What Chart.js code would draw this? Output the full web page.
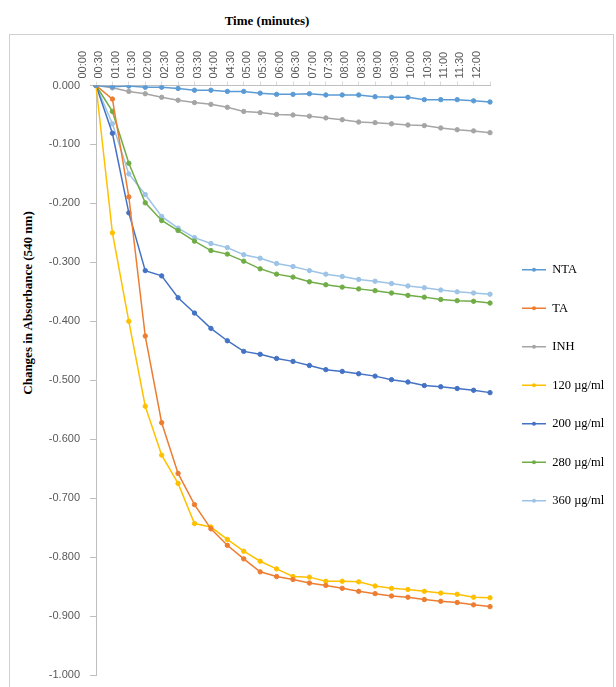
<!doctype html>
<html>

<head>
  <title>Absorbance change chart</title>
  <script src="https://cdn.jsdelivr.net/npm/chart.js@4.4.1/dist/chart.umd.min.js"></script>
  <style>
    html, body {
      margin: 0;
      padding: 0;
      background: #fff;
      overflow: hidden;
    }
    .frame {
      position: absolute;
      left: 9px;
      top: 34px;
      width: 603px;
      height: 700px;
      border: 1px solid #d0d0d0;
    }
    .title {
      position: absolute;
      font-family: "Liberation Serif", serif;
      font-weight: bold;
      font-size: 13px;
      color: #000;
      white-space: nowrap;
    }
    #xTitle {
      left: 267px;
      top: 21px;
      transform: translate(-50%, -50%);
    }
    #yTitle {
      left: 28px;
      top: 303px;
      transform: translate(-50%, -50%) rotate(-90deg);
    }
    canvas {
      position: absolute;
      left: 0;
      top: 0;
    }
  </style>
</head>

<body>
  <div class="frame"></div>
  <div class="title" id="xTitle">Time (minutes)</div>
  <div class="title" id="yTitle">Changes in Absorbance (540 nm)</div>
  <canvas id="myChart" width="616" height="687"></canvas>

  <script>
    var times = ['00:00', '00:30', '01:00', '01:30', '02:00', '02:30', '03:00', '03:30', '04:00',
      '04:30', '05:00', '05:30', '06:00', '06:30', '07:00', '07:30', '08:00', '08:30', '09:00',
      '09:30', '10:00', '10:30', '11:00', '11:30', '12:00'];

    var nta = [0, -0.002, -0.001, -0.003, -0.003, -0.005, -0.008, -0.008, -0.010, -0.010, -0.013,
      -0.015, -0.015, -0.014, -0.016, -0.016, -0.016, -0.019, -0.020, -0.020, -0.024, -0.024,
      -0.024, -0.026, -0.028];
    var ta = [0, -0.023, -0.189, -0.425, -0.572, -0.658, -0.711, -0.752, -0.780, -0.803, -0.825,
      -0.833, -0.838, -0.844, -0.848, -0.853, -0.858, -0.862, -0.866, -0.868, -0.872, -0.875,
      -0.877, -0.881, -0.884];
    var inh = [0, -0.004, -0.010, -0.014, -0.020, -0.025, -0.029, -0.032, -0.037, -0.044, -0.046,
      -0.049, -0.050, -0.052, -0.055, -0.058, -0.062, -0.063, -0.065, -0.067, -0.068, -0.072,
      -0.075, -0.077, -0.080];
    var dose120 = [0, -0.250, -0.400, -0.544, -0.627, -0.675, -0.743, -0.749, -0.770, -0.790, -0.807,
      -0.820, -0.833, -0.834, -0.841, -0.841, -0.842, -0.849, -0.853, -0.855, -0.858, -0.861,
      -0.863, -0.868, -0.869];
    var dose200 = [0, -0.081, -0.216, -0.314, -0.323, -0.360, -0.386, -0.412, -0.433, -0.451, -0.456,
      -0.463, -0.468, -0.475, -0.482, -0.485, -0.489, -0.493, -0.499, -0.503, -0.509, -0.511,
      -0.514, -0.517, -0.521];
    var dose280 = [0, -0.044, -0.132, -0.199, -0.229, -0.246, -0.264, -0.280, -0.286, -0.298, -0.311,
      -0.320, -0.325, -0.333, -0.338, -0.342, -0.345, -0.348, -0.352, -0.356, -0.359, -0.363,
      -0.365, -0.366, -0.369];
    var dose360 = [0, -0.065, -0.150, -0.185, -0.222, -0.242, -0.258, -0.268, -0.275, -0.287, -0.293,
      -0.302, -0.307, -0.314, -0.320, -0.324, -0.329, -0.332, -0.336, -0.340, -0.343, -0.347,
      -0.350, -0.352, -0.354];

    var seriesNames = ['NTA', 'TA', 'INH', '120 \u00b5g/ml', '200 \u00b5g/ml', '280 \u00b5g/ml', '360 \u00b5g/ml'];
    var seriesData = [nta, ta, inh, dose120, dose200, dose280, dose360];
    var seriesColors = ['#5b9bd5', '#ed7d31', '#a5a5a5', '#ffc000', '#4472c4', '#70ad47', '#9dc3e6'];

    var datasets = seriesNames.map(function(name, i) {
      return {
        label: name,
        data: seriesData[i],
        borderColor: seriesColors[i],
        backgroundColor: seriesColors[i],
        borderWidth: 1.5,
        pointRadius: 2.2,
        pointBorderWidth: 1,
        pointBackgroundColor: seriesColors[i],
        pointBorderColor: seriesColors[i],
        tension: 0,
        fill: false
      };
    });

    // legend: fixed width on the right, nudged down a bit, with a marker on each line sample
    var legendTweaks = {
      id: 'legendTweaks',
      beforeLayout: function(chart) {
        var legend = chart.legend;
        if (!legend || legend._patched) return;
        var fit = legend.fit;
        legend.fit = function() {
          fit.call(this);
          this.width = 120;
        };
        legend._patched = true;
      },
      afterLayout: function(chart) {
        var legend = chart.legend;
        if (!legend) return;
        legend.top += 5;
        legend.bottom += 5;
      },
      afterDraw: function(chart) {
        var legend = chart.legend;
        if (!legend || !legend.legendHitBoxes) return;
        var ctx = chart.ctx;
        var boxW = legend.options.labels.boxWidth;
        legend.legendHitBoxes.forEach(function(box, i) {
          ctx.save();
          ctx.fillStyle = seriesColors[i];
          ctx.beginPath();
          ctx.arc(box.left + boxW / 2, box.top + box.height / 2, 2, 0, Math.PI * 2);
          ctx.fill();
          ctx.restore();
        });
      }
    };

    var tickFont = {family: '"Liberation Sans", sans-serif', size: 11};

    var config = {
      type: 'line',
      data: {
        labels: times,
        datasets: datasets
      },
      options: {
        responsive: false,
        animation: false,
        layout: {
          padding: {left: 0, right: 0, top: 0, bottom: 12}
        },
        scales: {
          x: {
            type: 'category',
            position: 'top',
            offset: false,
            grid: {
              display: true,
              drawOnChartArea: false,
              color: '#d9d9d9',
              tickLength: 4
            },
            border: {color: '#bfbfbf'},
            ticks: {
              autoSkip: false,
              minRotation: 90,
              maxRotation: 90,
              padding: 3,
              color: '#595959',
              font: tickFont
            },
            afterFit: function(scale) {
              scale.height = 85.5;
            }
          },
          y: {
            min: -1,
            max: 0,
            grid: {
              display: true,
              drawOnChartArea: false,
              color: '#bfbfbf',
              tickLength: 6
            },
            border: {color: '#bfbfbf'},
            ticks: {
              stepSize: 0.1,
              padding: 10,
              color: '#595959',
              font: tickFont,
              callback: function(v) {
                return Number(v).toFixed(3);
              }
            },
            afterFit: function(scale) {
              scale.width = 96;
              scale.paddingTop = 6;
              scale.paddingBottom = 6;
            }
          },
          spacer: {
            type: 'linear',
            position: 'right',
            display: true,
            grid: {display: false},
            border: {display: false},
            ticks: {display: false},
            afterFit: function(scale) {
              scale.width = 6;
            }
          }
        },
        plugins: {
          title: {display: false},
          tooltip: {enabled: false},
          legend: {
            display: true,
            position: 'right',
            fullSize: false,
            align: 'center',
            labels: {
              boxWidth: 24,
              boxHeight: 1.5,
              padding: 26,
              color: '#404040',
              font: {family: '"Liberation Serif", serif', size: 12.5},
              generateLabels: function(chart) {
                return chart.data.datasets.map(function(ds, i) {
                  return {
                    text: ds.label,
                    fillStyle: ds.borderColor,
                    strokeStyle: ds.borderColor,
                    lineWidth: 0,
                    datasetIndex: i
                  };
                });
              }
            }
          }
        }
      },
      plugins: [legendTweaks]
    };

    var ctx = document.getElementById('myChart').getContext('2d');
    window.myChart = new Chart(ctx, config);
  </script>
</body>

</html>
